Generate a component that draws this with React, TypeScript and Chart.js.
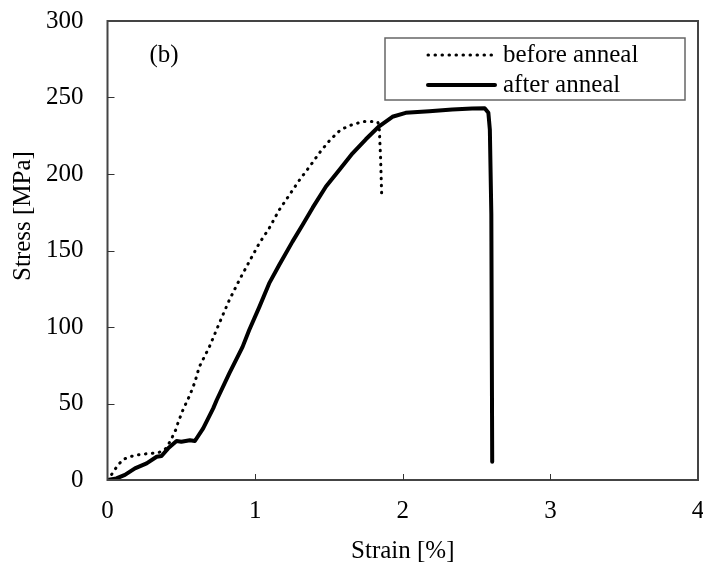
import React, { useEffect, useRef } from "react";
import { Chart, registerables } from "chart.js";

Chart.register(...registerables);

const beforeStrain = [0, 0.01, 0.044, 0.073, 0.107, 0.152, 0.197, 0.249, 0.3, 0.348, 0.39, 0.417, 0.44, 0.463, 0.478, 0.512, 0.535, 0.558, 0.592, 0.622, 0.69, 0.757, 0.825, 0.893, 0.96, 1.028, 1.095, 1.163, 1.23, 1.3, 1.37, 1.445, 1.51, 1.58, 1.65, 1.73, 1.795, 1.83, 1.84, 1.85, 1.857];
const beforeStress = [0, 1, 6, 10, 13.5, 15.2, 16.3, 17, 17.4, 18, 20, 24, 28.3, 33, 37.5, 46, 50.8, 55.5, 64, 74, 87, 102.4, 117.6, 130.7, 142.7, 154.7, 164.5, 176.5, 186, 196, 205, 215, 222.5, 229, 232, 234.3, 234.3, 234, 231.8, 210, 187];

const afterStrain = [0, 0.06, 0.118, 0.186, 0.265, 0.333, 0.366, 0.411, 0.468, 0.5, 0.558, 0.592, 0.648, 0.716, 0.74, 0.825, 0.915, 0.96, 1.028, 1.095, 1.163, 1.253, 1.32, 1.39, 1.48, 1.57, 1.66, 1.75, 1.84, 1.93, 2.02, 2.18, 2.335, 2.47, 2.555, 2.58, 2.59, 2.6, 2.606];
const afterStress = [0, 1, 3.3, 7.6, 10.9, 15.2, 15.7, 20.7, 25.5, 25, 26, 25.5, 33.8, 46.8, 52.3, 69.7, 87, 98, 113, 128.5, 140.5, 155.8, 166.5, 178, 191.8, 202.6, 213.5, 222.7, 231.2, 237.4, 240, 241, 242.2, 242.8, 243, 240, 229, 174, 12];

const xTickValues = [0, 1, 2, 3, 4];
const yTickValues = [0, 50, 100, 150, 200, 250, 300];
const seriesLabels = ["before anneal", "after anneal"];
const panelLabel = "(b)";
const xTitle = "Strain [%]";
const yTitle = "Stress [MPa]";

const FONT = "'Liberation Serif', 'Times New Roman', serif";
const FS = 25;

const decorPlugin = {
  id: "decor",
  afterDraw(chart: any) {
    const { ctx, chartArea: a, scales } = chart;
    const x = scales.x;
    const y = scales.y;
    ctx.save();
    ctx.strokeStyle = "#444444";
    ctx.lineWidth = 2;
    ctx.strokeRect(a.left, a.top, a.right - a.left, a.bottom - a.top);
    ctx.lineWidth = 1;
    ctx.strokeStyle = "#333333";
    xTickValues.slice(1, -1).forEach((v) => {
      const px = Math.round(x.getPixelForValue(v)) + 0.5;
      ctx.beginPath();
      ctx.moveTo(px, a.bottom);
      ctx.lineTo(px, a.bottom - 6);
      ctx.stroke();
    });
    yTickValues.slice(1, -1).forEach((v) => {
      const py = Math.round(y.getPixelForValue(v)) + 0.5;
      ctx.beginPath();
      ctx.moveTo(a.left, py);
      ctx.lineTo(a.left + 7, py);
      ctx.stroke();
    });
    const lx = 385, ly = 38, lw = 300, lh = 62;
    ctx.fillStyle = "#ffffff";
    ctx.fillRect(lx, ly, lw, lh);
    ctx.strokeStyle = "#666666";
    ctx.lineWidth = 1.5;
    ctx.strokeRect(lx, ly, lw, lh);
    ctx.strokeStyle = "#000000";
    ctx.lineCap = "round";
    ctx.lineWidth = 3;
    ctx.setLineDash([0.5, 6.5]);
    ctx.beginPath();
    ctx.moveTo(428, 55);
    ctx.lineTo(495, 55);
    ctx.stroke();
    ctx.setLineDash([]);
    ctx.lineWidth = 4;
    ctx.beginPath();
    ctx.moveTo(428, 85);
    ctx.lineTo(495, 85);
    ctx.stroke();
    ctx.fillStyle = "#000000";
    ctx.font = `${FS}px ${FONT}`;
    ctx.textBaseline = "middle";
    ctx.textAlign = "left";
    ctx.fillText(seriesLabels[0], 503, 55);
    ctx.fillText(seriesLabels[1], 503, 85);
    ctx.textAlign = "center";
    ctx.fillText(panelLabel, 164, 55);
    ctx.translate(23, 216);
    ctx.rotate(-Math.PI / 2);
    ctx.textAlign = "center";
    ctx.fillText(yTitle, 0, 0);
    ctx.restore();
  },
};

export default function App() {
  const ref = useRef<HTMLCanvasElement>(null);
  useEffect(() => {
    if (!ref.current) return;
    const chart = new Chart(ref.current, {
      type: "line",
      data: {
        datasets: [
          {
            label: seriesLabels[0],
            data: beforeStrain.map((v, i) => ({ x: v, y: beforeStress[i] })),
            borderColor: "#000000",
            borderWidth: 3,
            borderDash: [0.5, 6.5],
            borderCapStyle: "round",
            pointRadius: 0,
            tension: 0,
            fill: false,
          },
          {
            label: seriesLabels[1],
            data: afterStrain.map((v, i) => ({ x: v, y: afterStress[i] })),
            borderColor: "#000000",
            borderWidth: 4,
            borderJoinStyle: "round",
            borderCapStyle: "round",
            pointRadius: 0,
            tension: 0,
            fill: false,
          },
        ],
      },
      options: {
        animation: false,
        responsive: true,
        maintainAspectRatio: false,
        layout: { padding: { top: 21, right: 5, left: 0, bottom: 0 } },
        plugins: { legend: { display: false }, tooltip: { enabled: false } },
        scales: {
          x: {
            type: "linear",
            min: 0,
            max: 4,
            afterBuildTicks: (s: any) => {
              s.ticks = xTickValues.map((v) => ({ value: v }));
            },
            afterFit: (s: any) => {
              s.height = 92;
              s.paddingLeft = 0;
              s.paddingRight = 0;
              s.paddingTop = 0;
              s.paddingBottom = 0;
            },
            ticks: {
              font: { family: FONT, size: FS },
              color: "#000000",
              padding: 16,
              maxRotation: 0,
            },
            grid: { display: false, drawTicks: false },
            border: { display: false },
            title: {
              display: true,
              text: xTitle,
              font: { family: FONT, size: FS },
              color: "#000000",
              padding: { top: 0, bottom: 6 },
            },
          },
          y: {
            type: "linear",
            min: 0,
            max: 300,
            afterBuildTicks: (s: any) => {
              s.ticks = yTickValues.map((v) => ({ value: v }));
            },
            afterFit: (s: any) => {
              s.width = 107.5;
              s.paddingLeft = 0;
              s.paddingRight = 0;
              s.paddingTop = 0;
              s.paddingBottom = 0;
            },
            ticks: {
              font: { family: FONT, size: FS },
              color: "#000000",
              padding: 24,
            },
            grid: { display: false, drawTicks: false },
            border: { display: false },
          },
        },
      },
      plugins: [decorPlugin],
    });
    return () => chart.destroy();
  }, []);
  return (
    <div style={{ position: "absolute", left: 0, top: 0, width: 703, height: 572, background: "#ffffff" }}>
      <canvas ref={ref} />
    </div>
  );
}
